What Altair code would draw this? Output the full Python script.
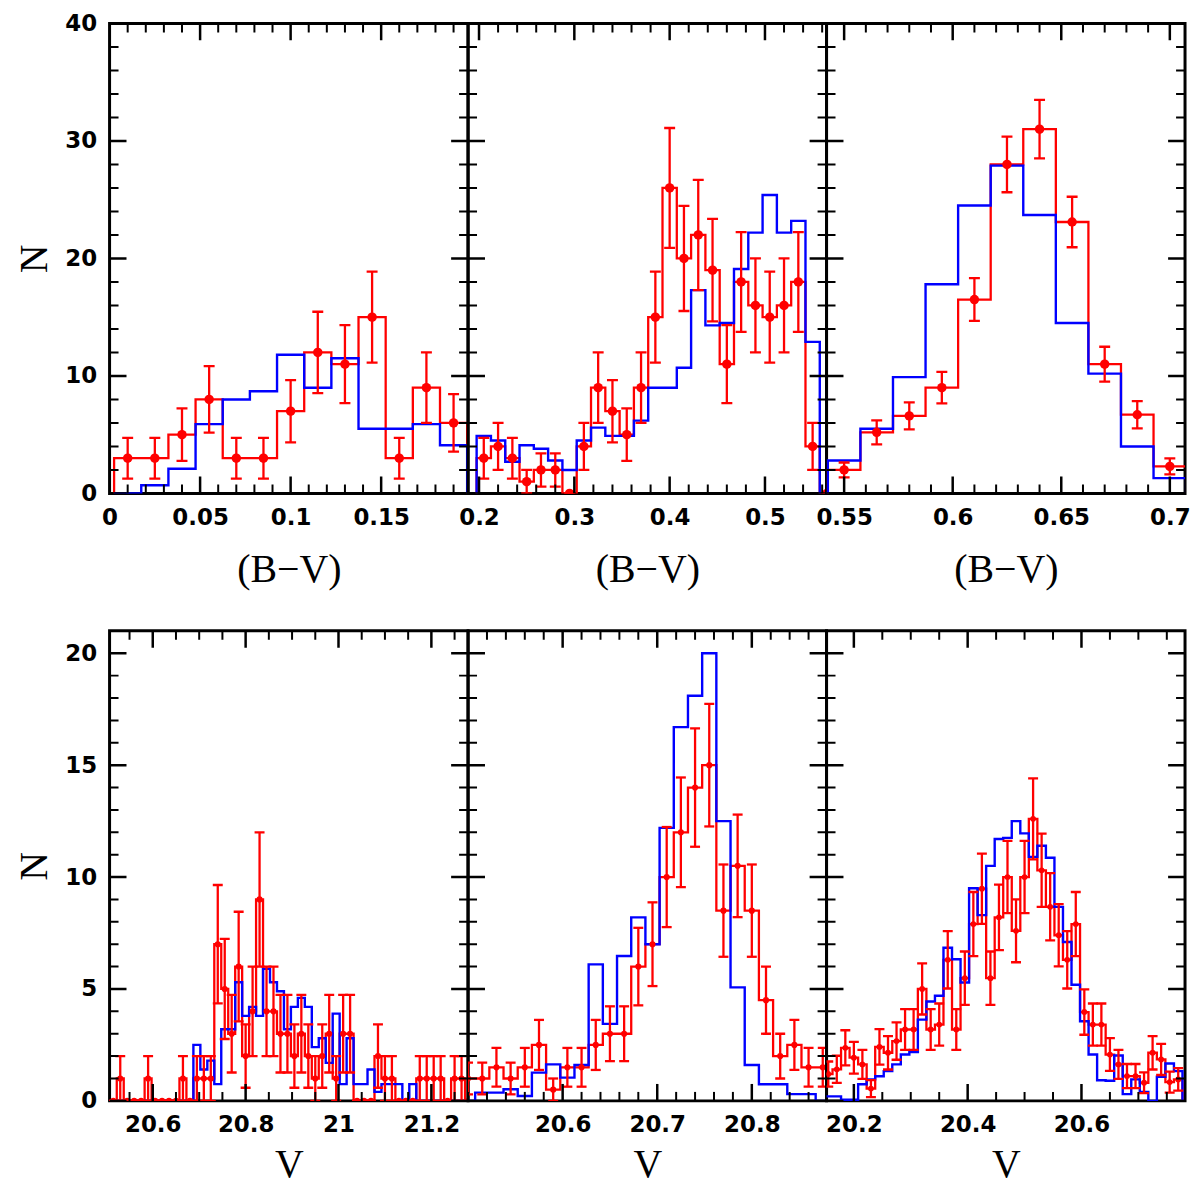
import altair as alt
import numpy as np
import pandas as pd

# ---------------- top row: (B-V) histograms ----------------
bv1_first, bv1_width = 0.01, 0.015
bv1_red = [3, 3, 5, 8, 3, 3, 7, 12, 11, 15, 3, 9, 6]
bv1_blue = [0, 0.7, 2.1, 5.9, 8.0, 8.7, 11.8, 9.0, 11.5, 5.5, 5.5, 5.9, 4.1]

bv2_first, bv2_width = 0.205, 0.015
bv2_red = [3, 4, 3, 1, 2, 2, 0, 4, 9, 7, 5, 9, 15, 26, 20, 22, 19, 11, 18, 16,
           15, 16, 18, 4, 0]
bv2_blue = [4.9, 4.5, 2.7, 4.1, 3.8, 2.8, 2.0, 4.5, 5.6, 4.9, 4.9, 6.2, 9.0, 9.0,
            10.7, 17.3, 14.3, 14.5, 19.1, 22.2, 25.4, 22.2, 23.2, 12.9, 0]

bv3_first, bv3_width = 0.55, 0.015
bv3_red = [2.0, 5.2, 6.6, 9.0, 16.5, 28, 31, 23.1, 11, 6.7, 2.3]
bv3_blue = [2.8, 5.5, 9.9, 17.8, 24.5, 27.9, 23.7, 14.5, 10.2, 4.0, 1.3]

# ---------------- bottom row: V histograms ----------------
v1_first, v1_width = 20.5, 0.015
v1_red = [0, 0, 1, 0, 0, 0, 1, 0, 0, 0,
          0, 1, 0, 1, 1, 1, 7, 5, 3, 6,
          2, 4, 9, 4, 4, 3, 3, 2, 3, 2,
          1, 2, 3, 1, 3, 3, 0, 0, 0, 2,
          1, 1, 0, 0, 0, 1, 1, 1, 1, 0,
          1, 1, 0]
v1_blue = [0, 0, 0, 0, 0, 0, 0, 0, 0, 0,
           0, 0, 0, 2.5, 1.4, 1.8, 0.75, 3.2, 3.2, 5.3,
           3.8, 4.2, 3.8, 5.9, 5.3, 4.9, 3.2, 4.2, 4.6, 4.2,
           2.4, 2.8, 1.7, 3.9, 0.75, 2.8, 0.75, 0.75, 1.4, 0.4,
           0.75, 0.75, 0.75, 0, 0.75, 0, 0, 0, 0, 0,
           0, 0, 0]

v2_first, v2_width = 20.5, 0.015
v2_red = [1.0, 1.0, 1.5, 1.0, 1.5, 2.5, 0.5, 1.5, 1.5, 2.5, 3.0, 3.0, 6.0,
          7.0, 10.0, 12.0, 14.0, 15.0, 8.5, 10.5, 8.5, 4.5, 2.0, 2.5, 1.5, 1.5]
v2_blue = [0, 0.37, 0.37, 0.52, 0.22, 1.26, 1.63, 1.04, 1.6, 6.1, 3.44, 6.47,
           8.2, 7.0, 12.2, 16.7, 18.1, 20.0, 12.5, 5.07, 1.6, 0.74, 0.74, 0.3,
           0.3, 0]

v3_first, v3_width = 20.155, 0.015
v3_red = [1.2, 1.41, 2.37, 1.93, 1.63, 0.55, 2.41, 2.15, 2.67, 3.19,
          3.19, 5.0, 3.19, 3.41, 6.3, 3.19, 5.48, 7.9, 9.48, 5.48,
          8.2, 10.0, 7.6, 10.0, 12.6, 10.3, 8.67, 7.4, 6.3, 7.9,
          3.97, 3.41, 3.41, 2.07, 1.63, 1.11, 1.11, 0.81, 2.15, 1.85,
          0.84, 0.96]
v3_blue = [0.2, 0.2, 0.05, 0.05, 0.74, 0.96, 1.1, 1.33, 1.63, 2.07,
           2.18, 3.63, 4.44, 4.7, 6.84, 6.33, 5.29, 9.5, 8.3, 10.5,
           11.7, 11.75, 12.5, 11.95, 10.9, 11.4, 10.86, 8.67, 7.1, 5.19,
           3.56, 2.07, 0.92, 0.9, 2.03, 0.3, 0.96, 0.4, 0, 1.08,
           1.67, 1.33]

err_scale = [1.0, 1.0, 0.2, 1.0, 0.5, 0.26]

# axis ranges and tick labels
x_domains = [[0, 0.198], [0.1885, 0.5646], [0.5419, 0.707],
             [20.507, 21.279], [20.5, 20.879], [20.152, 20.782]]
x_major = [[0, 0.05, 0.1, 0.15], [0.2, 0.3, 0.4, 0.5], [0.55, 0.6, 0.65, 0.7],
           [20.6, 20.8, 21, 21.2], [20.6, 20.7, 20.8], [20.2, 20.4, 20.6]]
x_minor_step = [0.01, 0.02, 0.01, 0.05, 0.02, 0.05]

top_y_domain, top_y_major, top_y_minor_step = [0, 40], [0, 10, 20, 30, 40], 2
bot_y_domain, bot_y_major, bot_y_minor_step = [0, 21], [0, 5, 10, 15, 20], 1

RED = '#ff0000'
BLUE = '#0000ff'
W, H = 360, 472
MAJ, MIN = 17, 9


def minor_ticks(domain, step, major):
    vals = np.round(np.arange(np.ceil(domain[0] / step) * step, domain[1] + 1e-9, step), 4)
    return [float(v) for v in vals if not np.any(np.isclose(v, major))]


def step_frame(first, width, values):
    left = first - width / 2 + width * np.arange(len(values))
    xs = np.concatenate([[left[0]], left, [left[-1] + width]])
    ys = np.concatenate([[0], np.asarray(values, float), [0]])
    return pd.DataFrame({'x': xs, 'y': ys, 'i': np.arange(len(xs))})


def point_frame(first, width, values, scale):
    n = np.asarray(values, float)
    err = np.sqrt(scale * n)
    return pd.DataFrame({'x': first + width * np.arange(len(n)), 'y': n,
                         'lo': n - err, 'hi': n + err})


def panel(first, width, red, blue, k, ydom, ymajor, ystep, xtitle, show_y,
          dot, cap, title_pad):
    xs = alt.Scale(domain=x_domains[k], nice=False, zero=False)
    ys = alt.Scale(domain=ydom, nice=False, zero=False)
    xaxis = alt.Axis(values=x_major[k], format='.4~g', ticks=False, tickSize=0,
                     domain=False, grid=False, labelPadding=13,
                     titlePadding=title_pad, labelOverlap=False, labelFlush=False)
    yaxis = None
    if show_y:
        yaxis = alt.Axis(values=ymajor, format='.4~g', ticks=False, tickSize=0,
                         domain=False, grid=False, labelPadding=13,
                         titlePadding=10, labelOverlap=False, labelFlush=False)

    # every layer carries the same axis definition so the shared axis merges cleanly
    X = lambda f: alt.X(f, scale=xs, axis=xaxis, title=xtitle)
    Y = lambda f: alt.Y(f, scale=ys, axis=yaxis, title='N')

    pts = point_frame(first, width, red, err_scale[k])

    red_step = alt.Chart(step_frame(first, width, red)).mark_line(
        interpolate='step-after', clip=True, color=RED, strokeWidth=2.3
    ).encode(x=X('x:Q'), y=Y('y:Q'), order='i:Q')
    blue_step = alt.Chart(step_frame(first, width, blue)).mark_line(
        interpolate='step-after', clip=True, color=BLUE, strokeWidth=2.4
    ).encode(x=X('x:Q'), y=Y('y:Q'), order='i:Q')

    bars = alt.Chart(pts).mark_rule(clip=True, color=RED, strokeWidth=2.3).encode(
        x=X('x:Q'), y=Y('lo:Q'), y2='hi:Q')
    cap_lo = alt.Chart(pts).mark_tick(orient='horizontal', size=cap, thickness=2.3,
                                      clip=True, color=RED, opacity=1).encode(
        x=X('x:Q'), y=Y('lo:Q'))
    cap_hi = alt.Chart(pts).mark_tick(orient='horizontal', size=cap, thickness=2.3,
                                      clip=True, color=RED, opacity=1).encode(
        x=X('x:Q'), y=Y('hi:Q'))
    dots = alt.Chart(pts).mark_circle(size=dot, clip=True, color=RED, opacity=1).encode(
        x=X('x:Q'), y=Y('y:Q'))

    layers = [red_step, blue_step, bars, cap_lo, cap_hi, dots]

    # inward ticks on all four sides
    xmin = minor_ticks(x_domains[k], x_minor_step[k], x_major[k])
    ymin = minor_ticks(ydom, ystep, ymajor)
    for vals, ln, sw in [(x_major[k], MAJ, 2.5), (xmin, MIN, 2)]:
        d = pd.DataFrame({'t': vals})
        layers.append(alt.Chart(d).mark_rule(clip=True, color='black', strokeWidth=sw).encode(
            x=X('t:Q'), y=alt.value(H), y2=alt.value(H - ln)))
        layers.append(alt.Chart(d).mark_rule(clip=True, color='black', strokeWidth=sw).encode(
            x=X('t:Q'), y=alt.value(0), y2=alt.value(ln)))
    for vals, ln, sw in [(ymajor, MAJ, 2.5), (ymin, MIN, 2)]:
        d = pd.DataFrame({'t': vals})
        layers.append(alt.Chart(d).mark_rule(clip=True, color='black', strokeWidth=sw).encode(
            y=Y('t:Q'), x=alt.value(0), x2=alt.value(ln)))
        layers.append(alt.Chart(d).mark_rule(clip=True, color='black', strokeWidth=sw).encode(
            y=Y('t:Q'), x=alt.value(W), x2=alt.value(W - ln)))

    return alt.layer(*layers).properties(width=W, height=H)


BV = '(B\u2212V)'
top = alt.hconcat(
    panel(bv1_first, bv1_width, bv1_red, bv1_blue, 0, top_y_domain, top_y_major,
          top_y_minor_step, BV, True, 90, 11, 20),
    panel(bv2_first, bv2_width, bv2_red, bv2_blue, 1, top_y_domain, top_y_major,
          top_y_minor_step, BV, False, 90, 11, 20),
    panel(bv3_first, bv3_width, bv3_red, bv3_blue, 2, top_y_domain, top_y_major,
          top_y_minor_step, BV, False, 90, 11, 20),
    spacing=0, bounds='flush'
)
bottom = alt.hconcat(
    panel(v1_first, v1_width, v1_red, v1_blue, 3, bot_y_domain, bot_y_major,
          bot_y_minor_step, 'V', True, 38, 10, 8),
    panel(v2_first, v2_width, v2_red, v2_blue, 4, bot_y_domain, bot_y_major,
          bot_y_minor_step, 'V', False, 38, 10, 8),
    panel(v3_first, v3_width, v3_red, v3_blue, 5, bot_y_domain, bot_y_major,
          bot_y_minor_step, 'V', False, 34, 10, 8),
    spacing=0, bounds='flush'
)

chart = alt.vconcat(top, bottom, spacing=38).properties(
    padding={'left': 5, 'top': 0, 'right': 0, 'bottom': 0}
).configure_view(
    stroke='black', strokeWidth=3
).configure_axis(
    labelFont='DejaVu Sans',
    labelFontWeight='bold',
    labelFontSize=23,
    labelColor='black',
    titleFont='Liberation Serif',
    titleFontWeight='normal',
    titleFontSize=40,
    titleColor='black'
)

chart.save("out.html", embed_options={"renderer": "svg", "actions": False})
